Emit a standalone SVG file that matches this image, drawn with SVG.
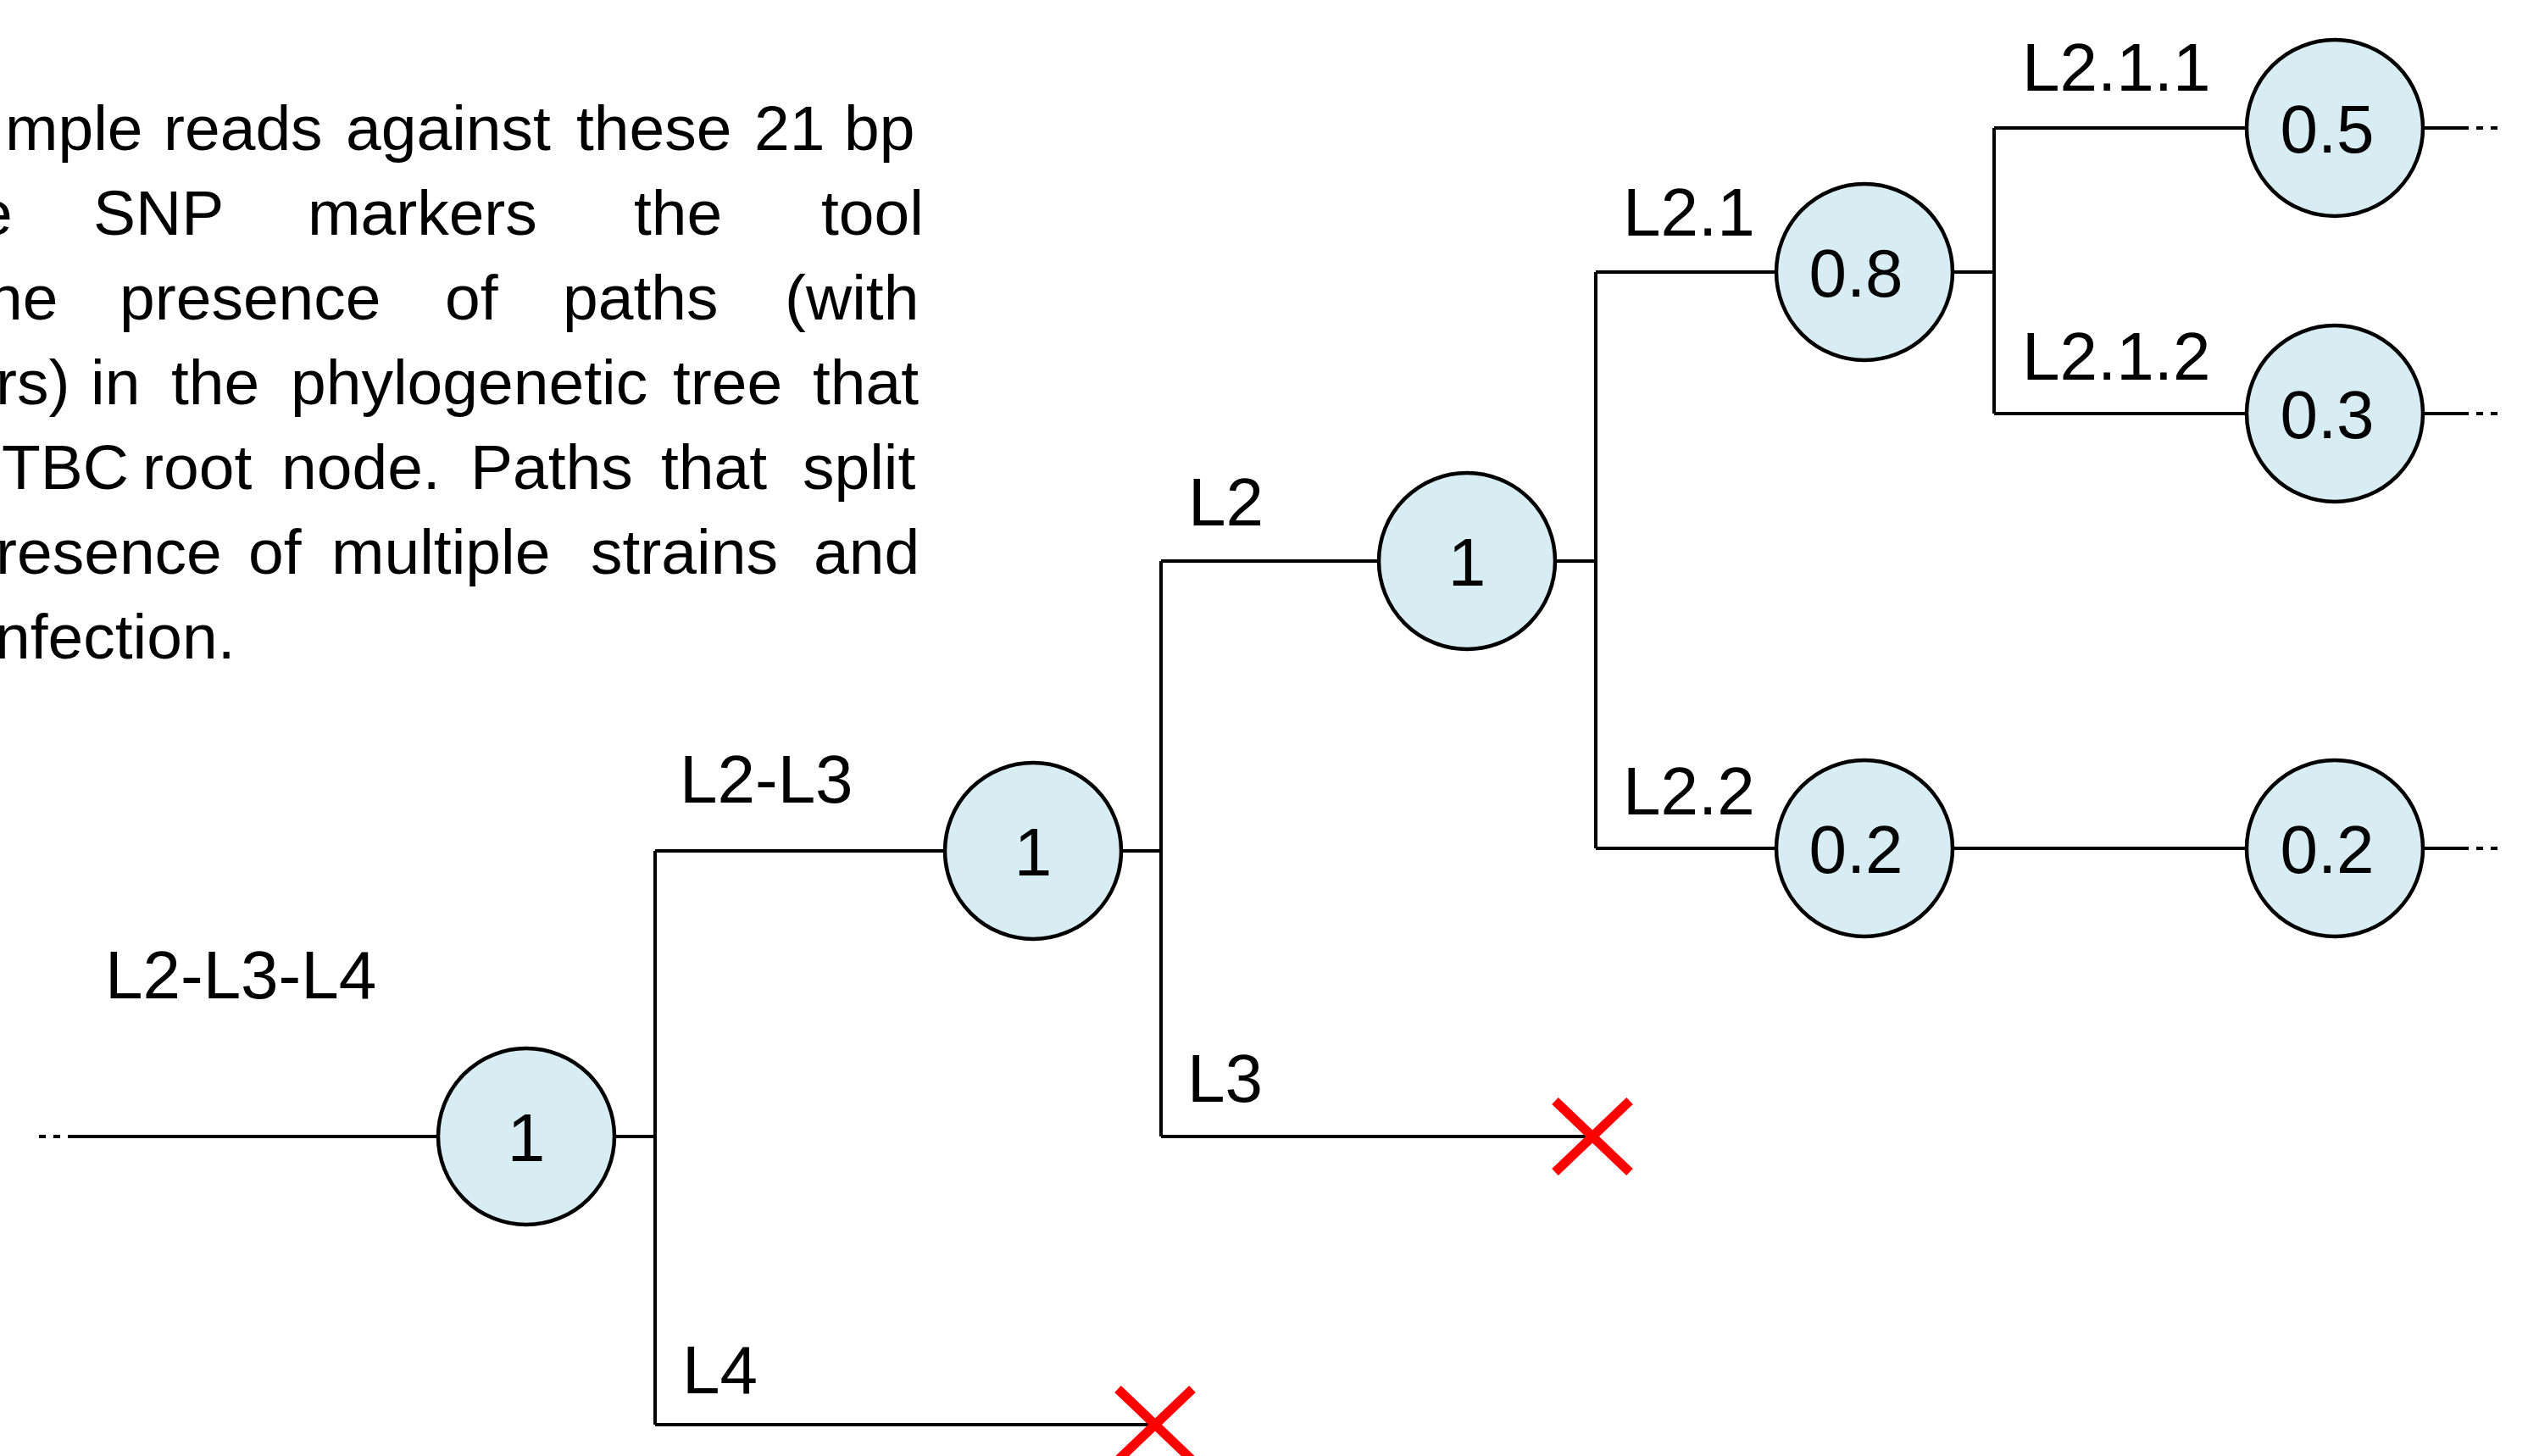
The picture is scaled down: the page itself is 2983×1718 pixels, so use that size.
<svg xmlns="http://www.w3.org/2000/svg" width="2983" height="1718" viewBox="0 0 2983 1718">
  <style>
    .para { font-family: "Liberation Sans", Arial, sans-serif; font-size: 75px; fill: #000; }
    .lbl { font-family: "Liberation Sans", Arial, sans-serif; font-size: 80px; fill: #000; }
    .num { font-family: "Liberation Sans", Arial, sans-serif; font-size: 80px; fill: #000; text-anchor: middle; }
    .node { fill: #D7EDF3; stroke: #000; stroke-width: 4.5; }
    .edge { stroke: #000; stroke-width: 4; fill: none; stroke-linecap: butt; }
    .dash { stroke: #000; stroke-width: 4; fill: none; stroke-dasharray: 8 9; }
    .cross { stroke: #FF0000; stroke-width: 11; fill: none; }
  </style>
  <rect width="2983" height="1718" fill="#FFFFFF"/>

  <g id="paragraph">
    <text class="para" y="177"><tspan x="6">mple</tspan><tspan x="193">reads</tspan><tspan x="408">against</tspan><tspan x="680">these</tspan><tspan x="890">21</tspan><tspan x="996">bp</tspan></text>
    <text class="para" y="277"><tspan x="-27">e</tspan><tspan x="110">SNP</tspan><tspan x="363">markers</tspan><tspan x="748">the</tspan><tspan x="969">tool</tspan></text>
    <text class="para" y="377"><tspan x="-15">he</tspan><tspan x="141">presence</tspan><tspan x="525">of</tspan><tspan x="664">paths</tspan><tspan x="926">(with</tspan></text>
    <text class="para" y="477"><tspan x="-5">rs)</tspan><tspan x="107">in</tspan><tspan x="202">the</tspan><tspan x="343">phylogenetic</tspan><tspan x="794">tree</tspan><tspan x="959">that</tspan></text>
    <text class="para" y="577"><tspan x="2">TBC</tspan><tspan x="168">root</tspan><tspan x="332">node.</tspan><tspan x="555">Paths</tspan><tspan x="780">that</tspan><tspan x="947">split</tspan></text>
    <text class="para" y="677"><tspan x="-5">resence</tspan><tspan x="293">of</tspan><tspan x="391">multiple</tspan><tspan x="697">strains</tspan><tspan x="960">and</tspan></text>
    <text class="para" y="777" x="-6">nfection.</text>
  </g>

  <g id="connectors">
    <!-- root incoming -->
    <path class="dash" d="M46 1341 H76"/>
    <path class="edge" d="M80 1341 H517"/>
    <!-- root to split -->
    <path class="edge" d="M725 1341 H773"/>
    <path class="edge" d="M773 1004 V1681"/>
    <path class="edge" d="M773 1004 H1115"/>
    <path class="edge" d="M773 1681 H1363"/>
    <!-- L2-L3 split -->
    <path class="edge" d="M1323 1004 H1370"/>
    <path class="edge" d="M1370 662 V1341"/>
    <path class="edge" d="M1370 662 H1627"/>
    <path class="edge" d="M1370 1341 H1879"/>
    <!-- L2 split -->
    <path class="edge" d="M1835 662 H1883"/>
    <path class="edge" d="M1883 321 V1001"/>
    <path class="edge" d="M1883 321 H2096"/>
    <path class="edge" d="M1883 1001 H2096"/>
    <!-- L2.1 split -->
    <path class="edge" d="M2304 321 H2353"/>
    <path class="edge" d="M2353 151 V488"/>
    <path class="edge" d="M2353 151 H2651"/>
    <path class="edge" d="M2353 488 H2651"/>
    <!-- L2.2 chain -->
    <path class="edge" d="M2304 1001 H2651"/>
    <!-- right tails -->
    <path class="edge" d="M2859 151 H2913"/>
    <path class="dash" d="M2922 151 H2948"/>
    <path class="edge" d="M2859 488 H2913"/>
    <path class="dash" d="M2922 488 H2948"/>
    <path class="edge" d="M2859 1001 H2913"/>
    <path class="dash" d="M2922 1001 H2948"/>
  </g>

  <g id="labels">
    <text class="lbl" x="124" y="1178">L2-L3-L4</text>
    <text class="lbl" x="802" y="947">L2-L3</text>
    <text class="lbl" x="805" y="1644">L4</text>
    <text class="lbl" x="1402" y="620">L2</text>
    <text class="lbl" x="1401" y="1300">L3</text>
    <text class="lbl" x="1915" y="278">L2.1</text>
    <text class="lbl" x="1915" y="961">L2.2</text>
    <text class="lbl" x="2386" y="107">L2.1.1</text>
    <text class="lbl" x="2386" y="448">L2.1.2</text>
  </g>

  <g id="node-root">
    <circle class="node" cx="621" cy="1341" r="104"/>
    <text class="num" x="621" y="1370">1</text>
  </g>
  <g id="node-L2-L3">
    <circle class="node" cx="1219" cy="1004" r="104"/>
    <text class="num" x="1219" y="1033">1</text>
  </g>
  <g id="node-L2">
    <circle class="node" cx="1731" cy="662" r="104"/>
    <text class="num" x="1731" y="691">1</text>
  </g>
  <g id="node-L2.1">
    <circle class="node" cx="2200" cy="321" r="104"/>
    <text class="num" x="2190" y="350">0.8</text>
  </g>
  <g id="node-L2.2">
    <circle class="node" cx="2200" cy="1001" r="104"/>
    <text class="num" x="2190" y="1030">0.2</text>
  </g>
  <g id="node-L2.1.1">
    <circle class="node" cx="2755" cy="151" r="104"/>
    <text class="num" x="2746" y="180">0.5</text>
  </g>
  <g id="node-L2.1.2">
    <circle class="node" cx="2755" cy="488" r="104"/>
    <text class="num" x="2746" y="517">0.3</text>
  </g>
  <g id="node-L2.2-child">
    <circle class="node" cx="2755" cy="1001" r="104"/>
    <text class="num" x="2746" y="1030">0.2</text>
  </g>

  <g id="cross-L3">
    <path class="cross" d="M1835 1299 L1923 1383 M1923 1299 L1835 1383"/>
  </g>
  <g id="cross-L4">
    <path class="cross" d="M1319 1639 L1407 1723 M1407 1639 L1319 1723"/>
  </g>
</svg>
